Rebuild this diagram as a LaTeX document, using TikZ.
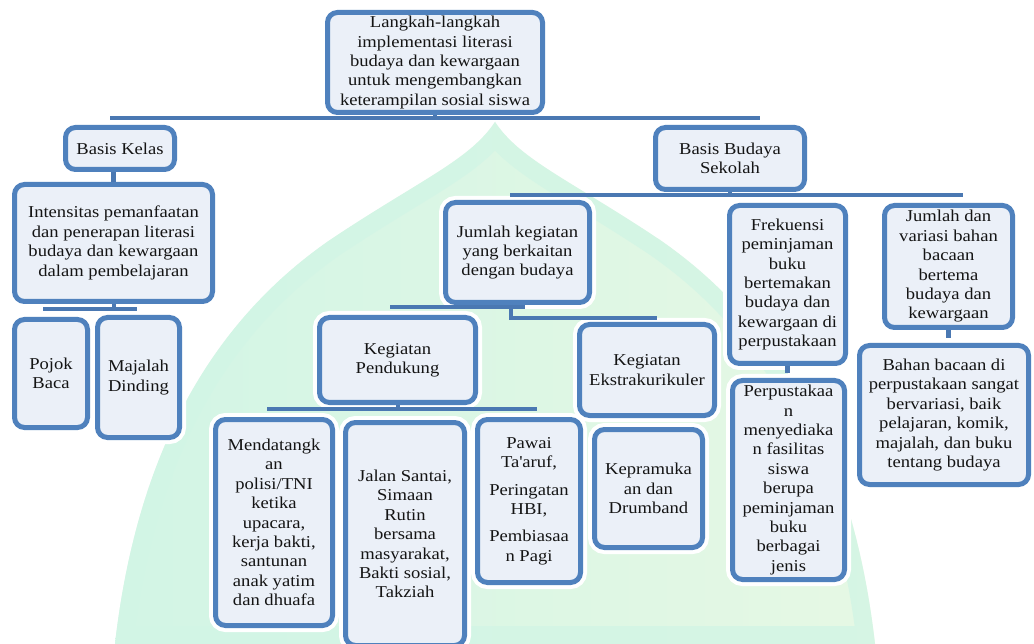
\documentclass[tikz,border=0pt]{standalone}
\usepackage{fontspec}
\setmainfont{Liberation Serif}[FakeStretch=1.12]
\definecolor{boxblue}{HTML}{4F81BD}
\definecolor{barblue}{HTML}{4A78B2}
\definecolor{boxfill}{HTML}{EBF0F8}
\definecolor{textcol}{HTML}{141414}
\definecolor{wmmint}{HTML}{D2F5E5}
\definecolor{wmyellow}{HTML}{F8FBD8}
\definecolor{wmmintb}{HTML}{E6F8E4}
\newcommand\archshape{(115,644) .. controls (135,470) and (200,330) .. (330,240)
  .. controls (420,180) and (470,160) .. (495,122)
  .. controls (520,160) and (570,180) .. (660,240)
  .. controls (790,330) and (855,470) .. (875,644) -- cycle}
\begin{document}
\begin{tikzpicture}[x=1pt,y=-1pt,
  box/.style={draw=boxblue, line width=5pt, fill=boxfill, rounded corners=10pt,
    align=center, inner sep=0pt, text=textcol,
    font=\fontsize{16.6}{19.4}\selectfont,
    preaction={draw=white, line width=13pt}},
  bar/.style={draw=barblue, line width=4pt},
  stem/.style={draw=barblue, line width=5pt},
]
\useasboundingbox (0,0) rectangle (1034,644);
\fill[white] (0,0) rectangle (1034,644);

% faint arch in the background
\shade[left color=wmmint, middle color=wmyellow, right color=wmmintb] \archshape;
\begin{scope}
  \clip \archshape;
  \draw[wmmint, line width=36pt, opacity=0.8] \archshape;
\end{scope}

% boxes
\node[box, minimum width=215pt, minimum height=100pt] (top) at (435,62.5)
  {Langkah-langkah\\implementasi literasi\\budaya dan kewargaan\\untuk mengembangkan\\keterampilan sosial siswa};
\node[box, minimum width=109pt, minimum height=42pt] (bk) at (120,148.5) {Basis Kelas};
\node[box, minimum width=198pt, minimum height=117pt] (intens) at (113.5,243)
  {Intensitas pemanfaatan\\dan penerapan literasi\\budaya dan kewargaan\\dalam pembelajaran};
\node[box, minimum width=73pt, minimum height=108pt] (pojok) at (51,373.5) {Pojok\\Baca};
\node[box, minimum width=82pt, minimum height=120pt] (majalah) at (138.5,377.5) {Majalah\\Dinding};
\node[box, minimum width=149pt, minimum height=62pt] (bbs) at (730,158.5) {Basis Budaya\\Sekolah};
\node[box, minimum width=144pt, minimum height=100pt] (jk) at (517.5,252.5)
  {Jumlah kegiatan\\yang berkaitan\\dengan budaya};
\node[box, minimum width=116pt, minimum height=158pt] (frek) at (787.5,284.5)
  {Frekuensi\\peminjaman\\buku\\bertemakan\\budaya dan\\kewargaan di\\perpustakaan};
\node[box, minimum width=128pt, minimum height=122pt] (jv) at (948.5,266.5)
  {Jumlah dan\\variasi bahan\\bacaan\\bertema\\budaya dan\\kewargaan};
\node[box, minimum width=169pt, minimum height=139pt] (bahan) at (944,415)
  {Bahan bacaan di\\perpustakaan sangat\\bervariasi, baik\\pelajaran, komik,\\majalah, dan buku\\tentang budaya};
\node[box, minimum width=112pt, minimum height=199pt] (perp) at (788.5,480)
  {Perpustakaa\\n\\menyediaka\\n fasilitas\\siswa\\berupa\\peminjaman\\buku\\berbagai\\jenis};
\node[box, minimum width=156pt, minimum height=85pt] (kp) at (397.5,360) {Kegiatan\\Pendukung};
\node[box, minimum width=135pt, minimum height=91pt] (ke) at (647,370) {Kegiatan\\Ekstrakurikuler};
\node[box, minimum width=117pt, minimum height=206pt] (mend) at (274,522.5)
  {Mendatangk\\an\\polisi/TNI\\ketika\\upacara,\\kerja bakti,\\santunan\\anak yatim\\dan dhuafa};
\node[box, minimum width=119pt, minimum height=223pt] (jalan) at (405,534)
  {Jalan Santai,\\Simaan\\Rutin\\bersama\\masyarakat,\\Bakti sosial,\\Takziah};
\node[box, minimum width=103pt, minimum height=163pt] (pawai) at (529,501)
  {Pawai\\Ta\textquotesingle aruf,\\[8pt]Peringatan\\HBI,\\[8pt]Pembiasaa\\n Pagi};
\node[box, minimum width=108pt, minimum height=118pt] (pram) at (648.5,488.5)
  {Kepramuka\\an dan\\Drumband};

% connector bars
\coordinate (b1w) at (110,118.5);
\coordinate (b1e) at (760,118.5);
\draw[bar] (b1w) -- (b1e);
\draw[bar] (top.south) -- (top.south |- b1w);

\draw[stem] (intens.north) -- (intens.north |- bk.south);

\coordinate (b2w) at (43,309);
\coordinate (b2e) at (137,309);
\draw[bar] (b2w) -- (b2e);
\draw[bar] (intens.south) -- (intens.south |- b2w);

\coordinate (b3w) at (510,195);
\coordinate (b3e) at (963,195);
\draw[bar] (b3w) -- (b3e);
\draw[bar] (bbs.south) -- (bbs.south |- b3w);

\coordinate (jkw) at (390,307.5);
\coordinate (jke) at (525,307.5);
\draw[bar] (jkw) -- (jke);
\coordinate (jkc) at (511,318);
\coordinate (jkr) at (657,318);
\draw[bar] (jkc |- jk.south) -- (jkc) -- (jkr);

\coordinate (b4w) at (267,409);
\coordinate (b4e) at (537,409);
\draw[bar] (b4w) -- (b4e);
\draw[bar] (kp.south) -- (kp.south |- b4w);

\draw[stem, shorten >=5pt] (frek.south) -- (frek.south |- perp.north);
\draw[stem, shorten >=5pt] (jv.south) -- (jv.south |- bahan.north);
\end{tikzpicture}
\end{document}
